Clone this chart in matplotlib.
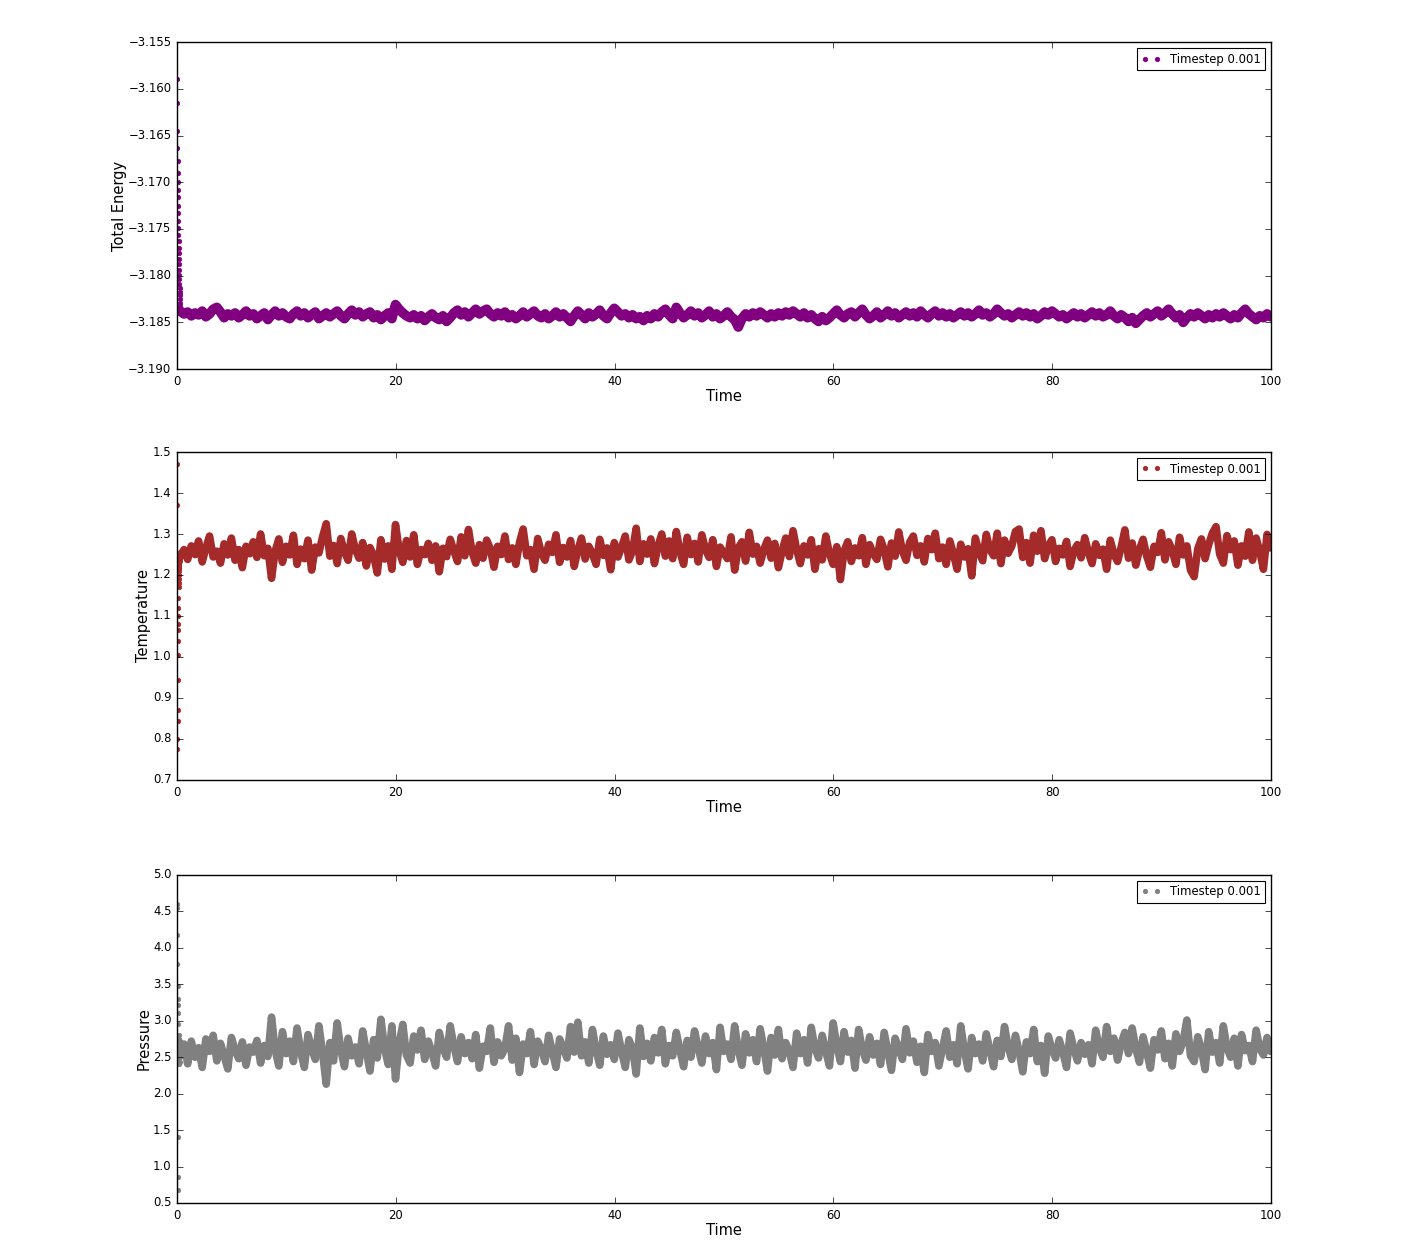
import numpy as np
import matplotlib
matplotlib.use("Agg")
import matplotlib.pyplot as plt

plt.style.use("classic")
plt.rcParams["font.family"] = ["DejaVu Sans"]
plt.rcParams["axes.unicode_minus"] = True

# ---------------- data ----------------
label = "Timestep 0.001"

# initial transient samples, t = 0 .. 0.29
time_start = np.arange(30) * 0.01
energy_start = [-3.1589, -3.1615, -3.1645, -3.1663, -3.1677, -3.1690, -3.1700, -3.1708, -3.1716, -3.1725,
                -3.1733, -3.1741, -3.1749, -3.1756, -3.1763, -3.1770, -3.1776, -3.1782, -3.1788, -3.1794,
                -3.1799, -3.1804, -3.1809, -3.1813, -3.1817, -3.1821, -3.1825, -3.1829, -3.1833, -3.1836]
temp_start = [1.470, 1.370, 0.775, 0.800, 0.845, 0.870, 0.945, 1.005, 1.040, 1.065,
              1.080, 1.100, 1.120, 1.145, 1.170, 1.180, 1.190, 1.200, 1.210, 1.215,
              1.220, 1.225, 1.230, 1.235, 1.240, 1.245, 1.250, 1.248, 1.252, 1.255]
press_start = [4.60, 4.55, 4.18, 3.78, 3.48, 3.30, 3.22, 3.10, 2.95, 0.68,
               0.86, 1.41, 2.45, 2.70, 2.52, 2.80, 2.40, 2.65, 2.58, 2.75,
               2.48, 2.62, 2.55, 2.70, 2.43, 2.66, 2.59, 2.72, 2.50, 2.61]

# steady-state samples, t = 0.3 .. 99.97 (step 1/3)
time_run = 0.3 + np.arange(300) / 3.0

energy_run = [
    -3.1838, -3.1841, -3.1839, -3.1843, -3.1840, -3.1842, -3.1838, -3.1844, -3.1841, -3.1836,
    -3.1834, -3.1839, -3.1845, -3.1841, -3.1843, -3.1840, -3.1845, -3.1842, -3.1838, -3.1843,
    -3.1841, -3.1846, -3.1843, -3.1840, -3.1847, -3.1842, -3.1838, -3.1843, -3.1840, -3.1844,
    -3.1846, -3.1841, -3.1838, -3.1843, -3.1840, -3.1845, -3.1842, -3.1839, -3.1846, -3.1843,
    -3.1840, -3.1844, -3.1841, -3.1838, -3.1843, -3.1846, -3.1841, -3.1837, -3.1842, -3.1839,
    -3.1844, -3.1841, -3.1839, -3.1845, -3.1842, -3.1847, -3.1843, -3.1840, -3.1846, -3.1831,
    -3.1836, -3.1840, -3.1843, -3.1845, -3.1842, -3.1846, -3.1843, -3.1848, -3.1844, -3.1841,
    -3.1845, -3.1847, -3.1843, -3.1849, -3.1845, -3.1840, -3.1837, -3.1842, -3.1839, -3.1844,
    -3.1840, -3.1836, -3.1841, -3.1838, -3.1836, -3.1841, -3.1844, -3.1840, -3.1843, -3.1839,
    -3.1845, -3.1842, -3.1846, -3.1843, -3.1839, -3.1844, -3.1841, -3.1838, -3.1843, -3.1845,
    -3.1841, -3.1846, -3.1843, -3.1839, -3.1844, -3.1841, -3.1845, -3.1849, -3.1843, -3.1838,
    -3.1842, -3.1846, -3.1840, -3.1844, -3.1841, -3.1837, -3.1843, -3.1846, -3.1840, -3.1835,
    -3.1839, -3.1843, -3.1841, -3.1845, -3.1842, -3.1846, -3.1844, -3.1848, -3.1843, -3.1846,
    -3.1841, -3.1844, -3.1839, -3.1836, -3.1842, -3.1846, -3.1834, -3.1840, -3.1845, -3.1842,
    -3.1838, -3.1843, -3.1840, -3.1845, -3.1842, -3.1838, -3.1844, -3.1841, -3.1846, -3.1843,
    -3.1839, -3.1844, -3.1847, -3.1855, -3.1846, -3.1841, -3.1844, -3.1840, -3.1843, -3.1839,
    -3.1842, -3.1845, -3.1841, -3.1844, -3.1840, -3.1843, -3.1839, -3.1842, -3.1838, -3.1841,
    -3.1844, -3.1840, -3.1845, -3.1842, -3.1846, -3.1849, -3.1844, -3.1848, -3.1845, -3.1841,
    -3.1837, -3.1842, -3.1845, -3.1841, -3.1839, -3.1844, -3.1840, -3.1836, -3.1842, -3.1846,
    -3.1843, -3.1839, -3.1845, -3.1842, -3.1838, -3.1843, -3.1840, -3.1845, -3.1842, -3.1839,
    -3.1843, -3.1840, -3.1844, -3.1838, -3.1842, -3.1845, -3.1841, -3.1838, -3.1843, -3.1840,
    -3.1844, -3.1841, -3.1845, -3.1842, -3.1839, -3.1843, -3.1840, -3.1844, -3.1841, -3.1837,
    -3.1842, -3.1840, -3.1844, -3.1841, -3.1836, -3.1840, -3.1843, -3.1841, -3.1845, -3.1842,
    -3.1839, -3.1843, -3.1840, -3.1844, -3.1841, -3.1846, -3.1843, -3.1839, -3.1842, -3.1838,
    -3.1841, -3.1844, -3.1842, -3.1846, -3.1843, -3.1840, -3.1844, -3.1841, -3.1845, -3.1842,
    -3.1839, -3.1843, -3.1840, -3.1844, -3.1842, -3.1838, -3.1843, -3.1846, -3.1842, -3.1845,
    -3.1849, -3.1845, -3.1851, -3.1847, -3.1843, -3.1840, -3.1844, -3.1841, -3.1838, -3.1843,
    -3.1840, -3.1836, -3.1841, -3.1845, -3.1842, -3.1850, -3.1845, -3.1841, -3.1844, -3.1840,
    -3.1843, -3.1846, -3.1842, -3.1845, -3.1841, -3.1844, -3.1840, -3.1843, -3.1846, -3.1842,
    -3.1845, -3.1840, -3.1836, -3.1841, -3.1844, -3.1847, -3.1843, -3.1845, -3.1841, -3.1844,
]

temp_run = [
    1.245, 1.262, 1.238, 1.271, 1.250, 1.283, 1.232, 1.266, 1.295, 1.244,
    1.258, 1.229, 1.276, 1.249, 1.290, 1.236, 1.262, 1.218, 1.270, 1.252,
    1.281, 1.243, 1.300, 1.247, 1.265, 1.192, 1.258, 1.288, 1.231, 1.270,
    1.249, 1.297, 1.226, 1.263, 1.240, 1.285, 1.212, 1.268, 1.254, 1.293,
    1.325, 1.246, 1.272, 1.228, 1.289, 1.257, 1.236, 1.300, 1.262, 1.241,
    1.279, 1.222, 1.267, 1.248, 1.205, 1.286, 1.239, 1.271, 1.214, 1.323,
    1.260, 1.231, 1.284, 1.244, 1.298, 1.226, 1.262, 1.250, 1.277, 1.236,
    1.271, 1.208, 1.265, 1.245, 1.287, 1.259, 1.233, 1.293, 1.247, 1.311,
    1.256, 1.229, 1.274, 1.241, 1.285, 1.264, 1.219, 1.270, 1.250, 1.295,
    1.238, 1.266, 1.226, 1.279, 1.312, 1.247, 1.262, 1.214, 1.289, 1.253,
    1.236, 1.275, 1.255, 1.298, 1.231, 1.267, 1.244, 1.284, 1.221, 1.261,
    1.290, 1.239, 1.270, 1.252, 1.226, 1.287, 1.248, 1.266, 1.213, 1.279,
    1.244, 1.268, 1.295, 1.237, 1.259, 1.314, 1.233, 1.276, 1.251, 1.288,
    1.228, 1.271, 1.300, 1.246, 1.283, 1.240, 1.306, 1.257, 1.226, 1.292,
    1.250, 1.277, 1.232, 1.298, 1.262, 1.243, 1.286, 1.221, 1.268, 1.254,
    1.240, 1.293, 1.212, 1.266, 1.281, 1.234, 1.304, 1.251, 1.270, 1.229,
    1.262, 1.285, 1.241, 1.277, 1.218, 1.258, 1.290, 1.245, 1.308, 1.262,
    1.228, 1.271, 1.249, 1.286, 1.214, 1.264, 1.237, 1.295, 1.252, 1.226,
    1.269, 1.189, 1.258, 1.281, 1.233, 1.266, 1.247, 1.291, 1.226, 1.274,
    1.252, 1.238, 1.287, 1.262, 1.220, 1.278, 1.246, 1.305, 1.259, 1.236,
    1.280, 1.295, 1.248, 1.271, 1.232, 1.289, 1.262, 1.302, 1.240, 1.268,
    1.226, 1.283, 1.251, 1.214, 1.275, 1.244, 1.264, 1.198, 1.290, 1.257,
    1.235, 1.299, 1.262, 1.247, 1.302, 1.228, 1.285, 1.253, 1.271, 1.306,
    1.312, 1.243, 1.279, 1.229, 1.297, 1.258, 1.308, 1.240, 1.271, 1.286,
    1.233, 1.265, 1.249, 1.282, 1.221, 1.259, 1.274, 1.242, 1.291, 1.255,
    1.228, 1.276, 1.248, 1.263, 1.214, 1.285, 1.251, 1.233, 1.268, 1.310,
    1.241, 1.278, 1.224, 1.262, 1.287, 1.246, 1.219, 1.270, 1.255, 1.303,
    1.237, 1.281, 1.260, 1.226, 1.292, 1.249, 1.271, 1.212, 1.196, 1.264,
    1.288, 1.240, 1.275, 1.302, 1.318, 1.251, 1.229, 1.296, 1.262, 1.283,
    1.224, 1.271, 1.246, 1.305, 1.236, 1.290, 1.258, 1.214, 1.299, 1.266,
]

press_run = [
    2.55, 2.68, 2.41, 2.72, 2.50, 2.63, 2.36, 2.75, 2.58, 2.80,
    2.45, 2.69, 2.52, 2.34, 2.77, 2.60, 2.48, 2.71, 2.39, 2.64,
    2.57, 2.73, 2.42, 2.66, 2.51, 3.05, 2.60, 2.38, 2.85, 2.55,
    2.72, 2.44, 2.90, 2.58, 2.36, 2.81, 2.62, 2.47, 2.93, 2.56,
    2.13, 2.70, 2.45, 2.97, 2.60, 2.37, 2.76, 2.52, 2.64, 2.41,
    2.86, 2.58, 2.31, 2.74, 2.49, 3.02, 2.62, 2.40, 2.93, 2.20,
    2.68, 2.95, 2.53, 2.42, 2.79, 2.60, 2.87, 2.47, 2.72, 2.56,
    2.38, 2.84, 2.63, 2.50, 2.93, 2.66, 2.44, 2.78, 2.55, 2.70,
    2.48, 2.81, 2.35, 2.65, 2.58, 2.90, 2.43, 2.71, 2.52, 2.62,
    2.93, 2.46, 2.76, 2.29, 2.68, 2.55, 2.85, 2.40, 2.72, 2.61,
    2.44, 2.80, 2.58, 2.36, 2.75, 2.63, 2.49, 2.92, 2.57, 2.98,
    2.52, 2.71, 2.42, 2.88, 2.60, 2.39, 2.79, 2.54, 2.67, 2.47,
    2.83, 2.58, 2.36, 2.74, 2.62, 2.27, 2.90, 2.51, 2.69, 2.45,
    2.77, 2.56, 2.88, 2.41, 2.66, 2.52, 2.84, 2.60, 2.37, 2.73,
    2.50, 2.86, 2.63, 2.42, 2.79, 2.55, 2.70, 2.33, 2.91, 2.58,
    2.68, 2.47, 2.93, 2.60, 2.39, 2.82, 2.56, 2.74, 2.44, 2.89,
    2.62, 2.31, 2.77, 2.53, 2.88, 2.48, 2.70, 2.58, 2.36, 2.83,
    2.55, 2.74, 2.42, 2.91, 2.63, 2.49, 2.80, 2.58, 2.38, 2.97,
    2.66, 2.44, 2.85, 2.57, 2.73, 2.35, 2.88, 2.61, 2.46, 2.78,
    2.53, 2.69, 2.40, 2.84, 2.58, 2.32, 2.76, 2.62, 2.47, 2.89,
    2.56, 2.72, 2.43, 2.65, 2.29, 2.81, 2.58, 2.70, 2.38, 2.62,
    2.86, 2.50, 2.67, 2.41, 2.93, 2.59, 2.34, 2.77, 2.55, 2.68,
    2.45, 2.82, 2.60, 2.37, 2.73, 2.51, 2.92, 2.64, 2.47, 2.80,
    2.58, 2.30, 2.71, 2.55, 2.88, 2.44, 2.66, 2.28, 2.79, 2.61,
    2.49, 2.74, 2.57, 2.36, 2.83, 2.62, 2.45, 2.70, 2.54, 2.67,
    2.41, 2.87, 2.63, 2.50, 2.92, 2.58, 2.76, 2.46, 2.69, 2.84,
    2.55, 2.90, 2.62, 2.43, 2.78, 2.57, 2.35, 2.74, 2.60, 2.86,
    2.48, 2.69, 2.38, 2.82, 2.58, 2.72, 3.01, 2.52, 2.44, 2.78,
    2.61, 2.33, 2.85, 2.57, 2.70, 2.42, 2.93, 2.63, 2.50, 2.76,
    2.38, 2.81, 2.59, 2.66, 2.44, 2.87, 2.62, 2.53, 2.77, 2.58,
]

panels = [
    ("Total Energy", energy_start, energy_run, "purple", (-3.190, -3.155), np.arange(-3.190, -3.1549, 0.005), "%.3f", 7.0),
    ("Temperature", temp_start, temp_run, "brown", (0.7, 1.5), np.arange(0.7, 1.501, 0.1), "%.1f", 5.5),
    ("Pressure", press_start, press_run, "gray", (0.5, 5.0), np.arange(0.5, 5.01, 0.5), "%.1f", 5.5),
]

# ---------------- figure ----------------
fig = plt.figure(figsize=(14.12, 12.57), dpi=100, facecolor="white")
rects = [
    [0.1254, 0.7064, 0.7748, 0.2601],
    [0.1254, 0.3795, 0.7748, 0.2609],
    [0.1254, 0.0430, 0.7748, 0.2609],
]

for rect, (ylab, y0, y1, col, ylim, yt, fmt, lw) in zip(rects, panels):
    ax = fig.add_axes(rect)
    ax.set_facecolor("white")
    t_all = np.concatenate([time_start, time_run])
    y_all = np.concatenate([np.asarray(y0, float), np.asarray(y1, float)])
    # dense sampling rendered as a joined band plus point markers
    ax.plot(time_run, y1, "-", color=col, lw=lw, solid_joinstyle="round",
            solid_capstyle="round")
    ax.plot(t_all, y_all, ".", color=col, markeredgecolor=col, markersize=6.5,
            label=label)
    ax.set_xlim(0, 100)
    ax.set_ylim(*ylim)
    ax.set_xticks(np.arange(0, 101, 20))
    ax.set_yticks(yt)
    ax.set_yticklabels([(fmt % v).replace("-", "\u2212") for v in yt])
    ax.tick_params(labelsize=8.4, direction="in", top=True, right=True, length=4)
    ax.set_xlabel("Time", fontsize=10.5, labelpad=1)
    ax.set_ylabel(ylab, fontsize=10.5, labelpad=1)
    leg = ax.legend(loc="upper right", numpoints=2, fontsize=8.4, frameon=True,
                    fancybox=False, borderpad=0.4, handlelength=1.6,
                    borderaxespad=0.5)
    leg.get_frame().set_edgecolor("black")
    leg.get_frame().set_linewidth(0.8)

fig.savefig("out.png", dpi=100, facecolor="white")
